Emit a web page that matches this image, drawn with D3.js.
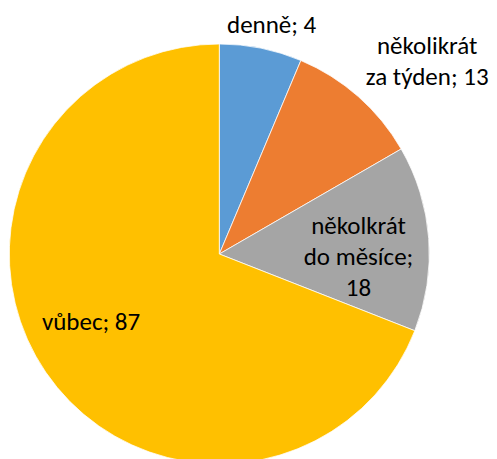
<!DOCTYPE html>
<html>
<head>
<meta charset="utf-8">
<script src="https://cdn.jsdelivr.net/npm/d3@7"></script>
<style>
  body { margin: 0; background: #fff; }
  svg { display: block; }
</style>
</head>
<body>
<div id="chart"></div>
<script>
// slice sizes as drawn in the picture, and the numbers printed in the labels
const categories = ['denně', 'několikrát za týden', 'několkrát do měsíce', 'vůbec']
const sliceValues = [8, 13, 18, 87]
const labelValues = [4, 13, 18, 87]
const labelLines = [
  ['denně; 4'],
  ['několikrát', 'za týden; 13'],
  ['několkrát', 'do měsíce;', '18'],
  ['vůbec; 87']
]
const colors = ['#5B9BD5', '#ED7D31', '#A5A5A5', '#FFC000']

// layout
const width = 497
const height = 459
const cx = 219.3
const cy = 254
const radius = 210
const labelRadius = [235.7, 283.6, 139.2, 145]
const labelShift = [1.4, 5.7, 5.1, 6.5] // degrees, clockwise
const fontSize = 25
const lineHeight = 31

const svg = d3.select('#chart')
  .append('svg')
  .attr('width', width)
  .attr('height', height)

const g = svg.append('g')
  .attr('transform', 'translate(' + cx + ',' + cy + ')')

const pie = d3.pie()
  .sort(null)
  .value(function (d) { return d })

const arcs = pie(sliceValues)

const arc = d3.arc()
  .innerRadius(0)
  .outerRadius(radius)

g.selectAll('path')
  .data(arcs)
  .enter()
  .append('path')
  .attr('d', arc)
  .attr('fill', function (d, i) { return colors[i] })
  .attr('stroke', '#fff')
  .attr('stroke-width', 0.75)

// data labels
const labels = g.selectAll('text')
  .data(arcs)
  .enter()
  .append('text')
  .attr('text-anchor', 'middle')
  .style('font-family', 'Calibri, Carlito, Lato, sans-serif')
  .style('font-size', fontSize + 'px')
  .style('fill', '#000')
  .attr('transform', function (d, i) {
    const a = (d.startAngle + d.endAngle) / 2 + labelShift[i] * Math.PI / 180
    const x = labelRadius[i] * Math.sin(a)
    const y = -labelRadius[i] * Math.cos(a)
    return 'translate(' + x + ',' + y + ')'
  })

labels.each(function (d, i) {
  const lines = labelLines[i]
  const first = -(lines.length - 1) * lineHeight / 2
  d3.select(this).selectAll('tspan')
    .data(lines)
    .enter()
    .append('tspan')
    .attr('x', 0)
    .attr('y', function (l, j) { return first + j * lineHeight })
    .attr('dy', '0.35em')
    .text(function (l) { return l })
})
</script>
</body>
</html>
